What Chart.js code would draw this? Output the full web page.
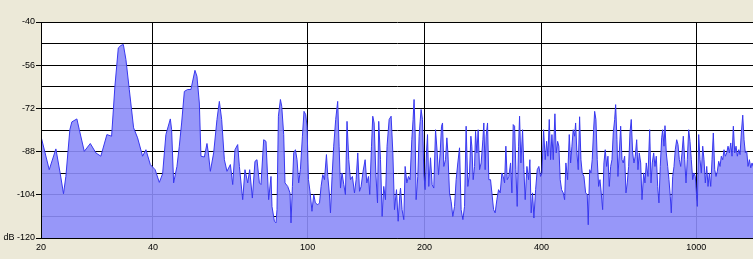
<!DOCTYPE html>
<html>
<head>
<meta charset="utf-8">
<title>Frequency Analysis</title>
<script src="https://cdn.jsdelivr.net/npm/chart.js"></script>
<style>
    html, body { margin: 0; padding: 0; background: #ece9d8; }
    #box { width: 753px; height: 259px; }
</style>
</head>
<body>
<div id="box"><canvas id="spectrum" width="753" height="259"></canvas></div>
<script>
// ===============================
// Spectrum data
// ===============================

// frequency of each point, Hz
const freqHz = [
    20.58, 21.63, 22.50, 23.09, 23.54, 23.87, 24.44, 24.73, 25.48, 25.85,
    26.62, 27.59, 28.52, 29.37, 30.44, 31.30, 31.92, 32.57, 33.07, 33.55,
    34.07, 34.76, 35.66, 36.51, 37.61, 38.36, 39.37, 40.51, 41.53, 42.35,
    43.18, 44.33, 44.67, 45.20, 46.10, 46.75, 47.40, 48.17, 49.12, 50.08,
    51.29, 51.90, 52.64, 53.15, 54.23, 55.08, 55.53, 56.19, 57.30, 58.44,
    59.27, 60.09, 61.06, 62.01, 63.27, 64.15, 65.02, 66.07, 66.74, 68.06,
    68.99, 70.11, 70.94, 72.08, 73.20, 74.08, 75.14, 75.85, 77.08, 78.14,
    79.37, 80.49, 80.96, 82.13, 82.91, 83.41, 84.10, 85.11, 85.77, 86.78,
    87.45, 88.87, 90.09, 90.62, 91.38, 92.09, 93.02, 93.91, 94.83, 95.82,
    96.96, 97.88, 98.87, 99.65, 100.5, 101.4, 102.6, 103.7, 104.7, 106.2,
    107.3, 108.3, 109.4, 110.5, 111.8, 112.7, 113.8, 114.5, 115.6, 116.7,
    118.1, 119.5, 120.5, 121.5, 122.6, 123.9, 125.1, 126.3, 127.6, 128.9,
    130.4, 132.0, 133.3, 134.6, 136.0, 137.3, 138.9, 140.6, 142.0, 143.4,
    144.5, 146.0, 147.1, 148.3, 149.8, 151.3, 152.4, 154.0, 155.5, 157.0,
    158.6, 160.1, 162.1, 164.0, 165.7, 167.3, 169.3, 171.0, 172.7, 173.4,
    175.0, 176.8, 178.2, 180.0, 181.8, 183.5, 185.4, 186.8, 187.9, 189.1,
    190.2, 192.1, 193.6, 194.8, 195.9, 197.5, 199.1, 200.6, 202.3, 203.5,
    205.0, 207.1, 209.1, 211.2, 213.4, 215.4, 217.2, 219.3, 221.1, 222.4,
    224.1, 226.4, 228.2, 229.5, 231.8, 234.0, 236.4, 238.8, 241.1, 243.5,
    246.0, 248.3, 250.9, 253.4, 255.8, 258.4, 261.0, 263.1, 264.6, 266.7,
    268.9, 270.5, 272.6, 274.7, 277.0, 279.6, 282.5, 284.1, 286.3, 288.0,
    290.4, 292.6, 295.6, 298.0, 301.0, 303.8, 306.9, 310.0, 313.0, 316.2,
    318.6, 321.3, 323.7, 326.3, 329.4, 332.9, 335.5, 338.1, 340.9, 343.5,
    346.2, 349.0, 351.1, 353.9, 357.4, 360.2, 363.0, 366.7, 370.4, 373.2,
    376.1, 379.2, 382.2, 386.1, 389.8, 393.6, 397.7, 400.8, 404.8, 408.7,
    412.1, 415.3, 418.6, 422.0, 425.3, 428.6, 432.9, 436.2, 439.9, 443.1,
    446.7, 450.4, 454.7, 458.5, 462.0, 466.7, 471.3, 475.1, 478.8, 482.5,
    486.5, 489.4, 493.2, 497.0, 501.1, 505.1, 508.9, 514.1, 519.3, 524.3,
    527.4, 531.8, 535.9, 540.0, 544.5, 547.8, 552.0, 556.3, 560.9, 565.3,
    569.6, 574.4, 578.8, 583.3, 588.2, 592.7, 597.4, 602.3, 607.0, 611.7,
    616.8, 620.4, 625.2, 628.9, 633.9, 639.1, 644.1, 649.0, 654.4, 659.5,
    664.6, 670.1, 675.3, 680.5, 686.2, 691.5, 696.9, 702.7, 708.1, 713.7,
    719.6, 725.2, 732.5, 738.1, 743.9, 751.4, 759.0, 764.9, 770.8, 777.2,
    783.2, 789.3, 795.9, 801.8, 808.2, 814.9, 819.8, 826.2, 831.1, 837.5,
    844.5, 850.8, 857.6, 862.7, 869.9, 876.6, 883.4, 890.8, 897.7, 904.8,
    912.2, 919.3, 926.4, 934.1, 941.3, 948.6, 956.4, 963.9, 971.3, 979.4,
    987.0, 994.6, 1006.6, 1014.9, 1022.7, 1030.6, 1039.2, 1047.3, 1055.4, 1064.3,
    1072.5, 1080.9, 1089.8, 1098.2, 1106.7, 1115.9, 1124.5, 1133.3, 1142.6, 1151.5,
    1160.4, 1170.1, 1179.2, 1188.3, 1198.3, 1207.5, 1217.0, 1227.0, 1236.5, 1246.1,
    1256.4, 1266.1, 1276.0, 1286.5, 1296.5, 1306.5, 1317.4, 1327.6, 1337.9, 1349.1,
    1359.5, 1370.3, 1381.5, 1392.2, 1400.4
];

// level of each point, dB
const levelDb = [
    -82.1, -94.7, -87.0, -96.2, -103.6, -97.2, -79.9, -77.0, -75.9, -79.9,
    -87.9, -85.0, -88.5, -89.7, -81.7, -82.3, -63.8, -49.6, -48.7, -48.3,
    -53.9, -65.0, -79.2, -82.9, -89.7, -87.3, -92.8, -94.7, -99.4, -96.2,
    -81.7, -75.9, -79.9, -99.6, -93.5, -86.0, -77.4, -65.7, -65.0, -65.0,
    -57.9, -60.1, -70.0, -89.7, -90.0, -85.0, -88.5, -95.3, -88.5, -76.1,
    -69.4, -76.1, -91.0, -95.3, -92.8, -100.2, -87.3, -85.4, -93.5, -105.8,
    -94.7, -99.6, -94.7, -105.2, -91.6, -91.0, -99.6, -100.2, -83.6, -84.2,
    -105.8, -97.2, -108.3, -113.8, -114.4, -109.5, -74.9, -68.7, -71.2, -81.7,
    -99.6, -100.9, -103.3, -114.4, -100.9, -88.5, -87.3, -91.0, -99.6, -94.7,
    -82.3, -73.1, -74.3, -78.6, -98.4, -102.7, -110.1, -103.9, -107.0, -107.7,
    -107.0, -100.9, -96.5, -98.4, -89.1, -97.2, -103.9, -110.7, -97.2, -86.0,
    -76.1, -69.4, -86.0, -101.5, -95.9, -100.2, -103.9, -76.8, -91.0, -98.4,
    -97.2, -103.3, -98.4, -88.5, -102.7, -100.9, -95.3, -91.0, -99.6, -97.2,
    -103.9, -86.0, -74.9, -77.4, -95.9, -107.0, -76.8, -91.0, -112.0, -100.9,
    -105.8, -86.0, -76.1, -74.9, -88.5, -109.5, -102.1, -113.8, -103.9, -101.5,
    -109.5, -113.2, -93.5, -99.6, -97.2, -98.4, -83.6, -76.1, -68.7, -81.1,
    -105.8, -97.2, -82.3, -76.8, -72.4, -76.1, -95.9, -102.1, -87.9, -81.7,
    -100.9, -90.3, -100.2, -101.5, -79.9, -87.9, -96.5, -88.5, -78.6, -77.4,
    -93.5, -91.0, -82.9, -87.9, -103.3, -106.4, -112.0, -108.3, -98.4, -92.2,
    -86.6, -109.5, -113.2, -108.3, -78.6, -100.9, -95.9, -82.3, -86.0, -98.4,
    -93.5, -80.5, -88.5, -79.9, -94.7, -92.2, -83.6, -77.4, -94.7, -82.3,
    -77.4, -98.4, -98.4, -103.3, -109.5, -110.7, -105.8, -102.1, -103.3, -95.9,
    -97.2, -99.6, -86.0, -98.4, -97.2, -92.2, -103.3, -78.0, -78.6, -94.7,
    -108.3, -86.0, -74.9, -92.2, -79.9, -94.7, -105.8, -93.5, -98.4, -91.0,
    -110.7, -103.3, -112.6, -102.1, -94.7, -93.5, -97.2, -95.9, -79.9, -91.0,
    -84.2, -89.7, -76.1, -91.0, -81.7, -91.0, -74.0, -88.5, -84.2, -86.0,
    -98.4, -102.1, -103.3, -105.8, -92.2, -98.4, -81.7, -92.2, -86.0, -79.9,
    -82.3, -77.4, -88.5, -94.7, -75.1, -91.0, -95.9, -97.2, -103.3, -103.9,
    -115.1, -94.7, -95.9, -91.0, -79.9, -73.1, -76.1, -91.0, -100.9, -98.4,
    -103.3, -109.5, -92.2, -87.3, -93.5, -89.7, -100.9, -93.5, -91.0, -81.1,
    -76.1, -70.6, -83.6, -97.2, -88.5, -78.6, -91.0, -92.2, -89.7, -103.3,
    -99.6, -93.5, -81.1, -76.1, -88.5, -92.2, -89.7, -83.6, -94.7, -88.5,
    -92.2, -105.8, -95.9, -99.6, -92.2, -97.2, -79.9, -99.6, -92.2, -88.5,
    -93.5, -89.7, -100.9, -107.0, -93.5, -82.9, -79.9, -86.0, -78.4, -88.5,
    -93.5, -98.4, -104.6, -110.7, -97.2, -93.5, -87.3, -83.6, -85.4, -91.0,
    -93.5, -88.5, -82.3, -91.0, -99.6, -91.0, -79.9, -84.2, -91.0, -98.4,
    -95.9, -97.2, -108.3, -81.7, -91.0, -95.9, -86.0, -91.0, -99.6, -93.5,
    -100.9, -95.9, -100.9, -91.0, -81.1, -94.7, -97.2, -95.3, -91.6, -93.5,
    -89.7, -91.0, -87.3, -89.7, -88.5, -86.0, -88.5, -84.8, -89.7, -78.6,
    -88.5, -86.0, -89.7, -87.3, -89.1, -81.1, -74.5, -83.6, -88.5, -87.9,
    -93.5, -91.0, -94.0, -92.2, -93.5
];

// axis ranges and ticks
const xMin = 20.6;
const xMax = 1400;
const xTickValues = [20.6, 40, 100, 200, 400, 1000];
const xTickLabels = ["20", "40", "100", "200", "400", "1000"];

const yMin = -120;
const yMax = -40;
const yGridValues = [-120, -112, -104, -96, -88, -80, -72, -64, -56, -48, -40];
const yLabelValues = [-120, -104, -88, -72, -56, -40];

// ===============================
// Helpers
// ===============================

function yLabel(value){
    if(yLabelValues.indexOf(value) === -1){
        return "";
    }
    if(value === yMin){
        return "dB " + value;
    }
    return String(value);
}

const points = freqHz.map(function(f, i){
    return { x: f, y: levelDb[i] };
});

// white plot area, beige everything else
const plotBackground = {
    id: "plotBackground",
    beforeDraw: function(chart){
        const a = chart.chartArea;
        const ctx = chart.ctx;
        ctx.save();
        ctx.fillStyle = "#ffffff";
        ctx.fillRect(a.left, a.top, a.right - a.left, a.bottom - a.top);
        ctx.restore();
    },
    afterDatasetsDraw: function(chart){
        // left axis line sits on top of the fill
        const a = chart.chartArea;
        const ctx = chart.ctx;
        const x = Math.round(a.left) + 0.5;
        ctx.save();
        ctx.strokeStyle = "#000000";
        ctx.lineWidth = 1;
        ctx.beginPath();
        ctx.moveTo(x, a.top);
        ctx.lineTo(x, a.bottom);
        ctx.stroke();
        ctx.restore();
    }
};

// ===============================
// Chart
// ===============================

Chart.defaults.font.family = "'Liberation Sans', Arial, sans-serif";
Chart.defaults.font.size = 9;
Chart.defaults.color = "#000000";

new Chart(document.getElementById("spectrum"), {

    type: "line",

    data: {
        datasets: [{
            data: points,
            borderColor: "rgb(56,56,240)",
            borderWidth: 1,
            backgroundColor: "rgba(140,140,248,0.9)",
            fill: "start",
            pointRadius: 0,
            tension: 0
        }]
    },

    options: {
        responsive: false,
        animation: false,
        events: [],
        layout: {
            padding: { top: 22, right: 0, bottom: 0, left: 0 }
        },
        plugins: {
            legend: { display: false },
            tooltip: { enabled: false }
        },
        scales: {
            x: {
                type: "logarithmic",
                min: xMin,
                max: xMax,
                afterBuildTicks: function(scale){
                    scale.ticks = xTickValues.map(function(v){
                        return { value: v };
                    });
                },
                afterFit: function(scale){
                    scale.height = 21;
                },
                ticks: {
                    autoSkip: false,
                    maxRotation: 0,
                    padding: 4,
                    callback: function(value, index){
                        return xTickLabels[index];
                    }
                },
                grid: {
                    color: "#000000",
                    lineWidth: 1,
                    drawTicks: false
                },
                border: { color: "#000000" }
            },
            y: {
                min: yMin,
                max: yMax,
                afterBuildTicks: function(scale){
                    scale.ticks = yGridValues.map(function(v){
                        return { value: v };
                    });
                },
                afterFit: function(scale){
                    scale.width = 41;
                },
                ticks: {
                    autoSkip: false,
                    padding: 1,
                    callback: function(value){
                        return yLabel(value);
                    }
                },
                grid: {
                    color: "#000000",
                    lineWidth: 1,
                    tickLength: 5,
                    tickColor: function(ctx){
                        if(ctx.tick && yLabelValues.indexOf(ctx.tick.value) !== -1){
                            return "#000000";
                        }
                        return "rgba(0,0,0,0)";
                    }
                },
                border: { color: "#000000" }
            }
        }
    },

    plugins: [plotBackground]

});
</script>
</body>
</html>
